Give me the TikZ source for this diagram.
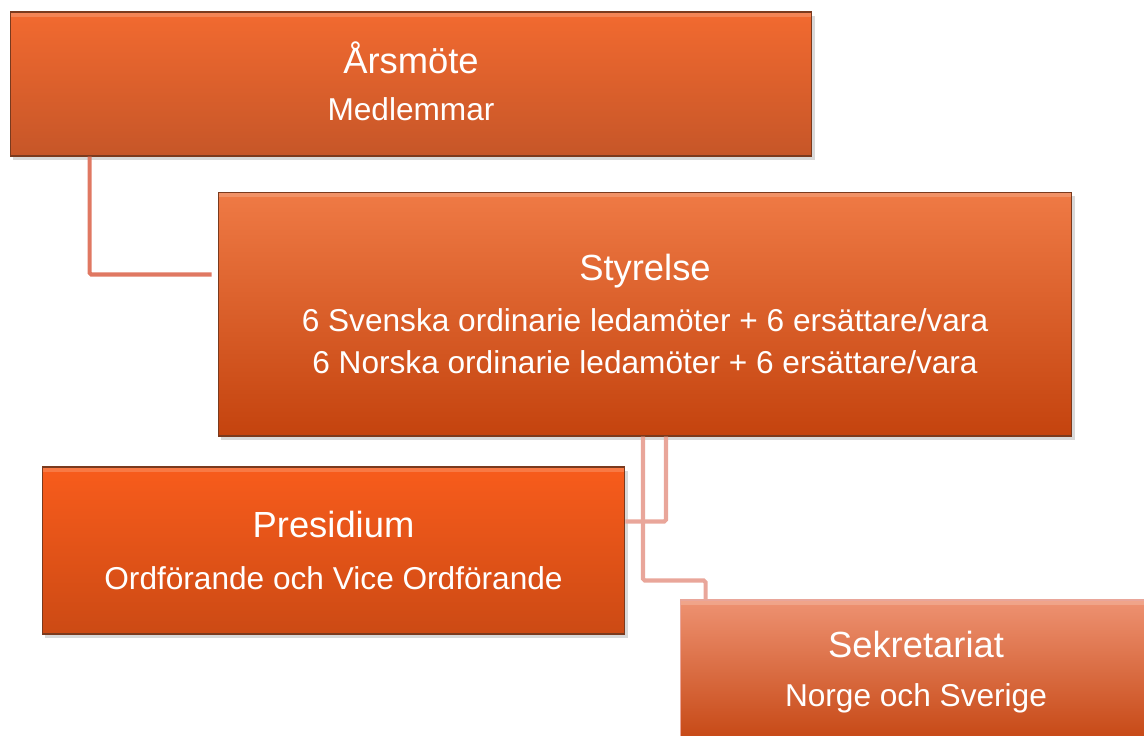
\documentclass[tikz,border=0pt]{standalone}
\usepackage{fontspec}
\setmainfont{Liberation Sans}
\usetikzlibrary{calc,positioning,shadows}
\definecolor{boxedge}{HTML}{7A3A1E}
\definecolor{arstop}{HTML}{F26A30}
\definecolor{arsbot}{HTML}{C65628}
\definecolor{stytop}{HTML}{EF7A45}
\definecolor{stybot}{HTML}{C4430E}
\definecolor{prestop}{HTML}{F85C1C}
\definecolor{presbot}{HTML}{CC4A14}
\definecolor{sektop}{HTML}{EE9272}
\definecolor{sekbot}{HTML}{C54612}
\definecolor{linkup}{HTML}{E07862}
\definecolor{linkdown}{HTML}{E9A69A}
\newcommand\boxhead{\fontsize{20.7}{25}\selectfont}
\newcommand\boxsub{\fontsize{18}{24}\selectfont}

\begin{document}
\begin{tikzpicture}[x=0.02cm,y=-0.02cm,
 orgbox/.style={draw=boxedge,line width=.6pt,align=center,text=white,inner sep=0pt,font=\boxsub,
  drop shadow={shadow xshift=1.5pt,shadow yshift=-2.5pt,opacity=.3},
  path picture={\fill[white,opacity=.18](path picture bounding box.north west)rectangle([yshift=-3pt]path picture bounding box.north east);}},
 link/.style={line width=2.3pt,rounded corners=1pt}]
 \useasboundingbox(0,0)rectangle(1144,735);
 \clip(0,0)rectangle(1144,735);
 % boxes
 \node[orgbox,top color=arstop,bottom color=arsbot,minimum width=16.04cm,minimum height=2.88cm](ars)at(411,84)
  {{\boxhead Årsmöte}\\[3pt]Medlemmar\rule[-3.4pt]{0pt}{0pt}};
 \node[orgbox,top color=stytop,bottom color=stybot,minimum width=17.08cm,minimum height=4.88cm](sty)at(645,314)
  {{\boxhead Styrelse}\\[4.6pt]6 Svenska ordinarie ledamöter + 6 ersättare/vara\\6 Norska ordinarie ledamöter + 6 ersättare/vara};
 \node[orgbox,top color=prestop,bottom color=presbot,minimum width=11.66cm,minimum height=3.34cm](pres)at(333.5,550.5)
  {{\boxhead Presidium}\\[6pt]Ordförande och Vice Ordförande};
 \node[orgbox,draw=linkdown,top color=sektop,bottom color=sekbot,minimum width=9.44cm,minimum height=2.88cm](sek)at(916,672)
  {{\boxhead Sekretariat}\\[4pt]Norge och Sverige};
 % connectors
 \coordinate(arsfoot)at($(ars.south west)+(80,0)$);
 \coordinate(styleft)at($(sty.north west)+(-6,83)$);
 \coordinate(stya)at($(sty.south)+(-2,0)$);
 \coordinate(styb)at($(sty.south)+(21,0)$);
 \coordinate(presin)at($(pres.north east)+(0,55)$);
 \coordinate(sekin)at($(sek.north west)+(26,0)$);
 \draw[link,linkup](arsfoot)|-(styleft);
 \draw[link,linkdown](styb)|-(presin);
 \draw[link,linkdown](stya)--++(0,144)-|(sekin);
\end{tikzpicture}
\end{document}
